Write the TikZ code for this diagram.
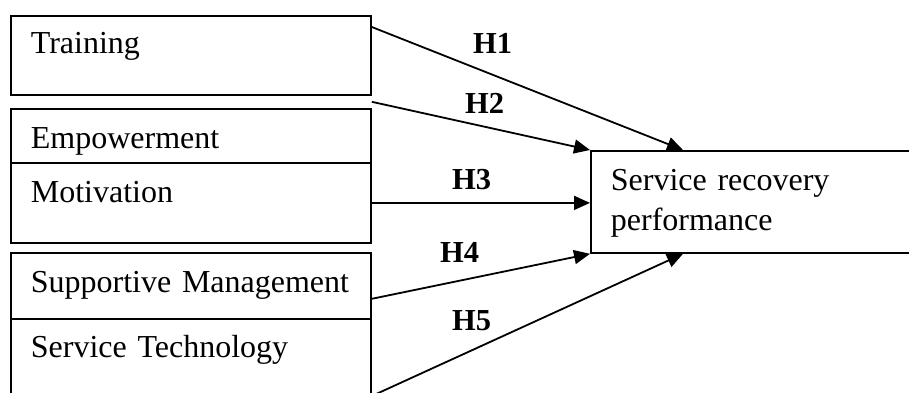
\documentclass[tikz,border=0pt]{standalone}
\usepackage{fontspec}
\setmainfont{Liberation Serif}
\usetikzlibrary{arrows.meta}
\tikzset{
  box/.style={draw, line width=1.8pt, anchor=north west, inner xsep=20pt, inner ysep=0pt,
    text width=320pt, align=left, font=\fontsize{32}{40}\selectfont},
  hyp/.style={anchor=base west, inner sep=0pt, font=\fontsize{30.5}{36}\selectfont\bfseries},
  link/.style={line width=1.8pt, -{Triangle[length=16pt, width=14pt]}}
}
\begin{document}
\begin{tikzpicture}[x=1pt, y=-1pt]
  \useasboundingbox (0,0) rectangle (909,392);
  % left boxes
  \foreach \nm/\yt/\th/\td/\txt in {train/15/38/41/Training, empow/108/40/14/Empowerment,
      motiv/162/40/40/Motivation, supp/252/40/26/Supportive Management,
      tech/318/39/82/Service Technology} {
    \node[box, text height=\th pt, text depth=\td pt] (\nm) at (10,\yt) {\txt};
  }
  % outcome
  \node[box, text width=285pt, text height=40pt, text depth=62pt] (srp) at (590,150)
    {Service recovery\\performance};
  % hypotheses
  \foreach \i/\x/\y in {1/473/53, 2/465/113, 3/452/189, 4/440/262, 5/452/330} {
    \node[hyp] (h\i) at (\x,\y) {H\i};
  }
  \draw[link] ([yshift=-12pt]train.north east) -- ([xshift=93pt]srp.north west);
  \draw[link] ([yshift=-6pt]train.south east) -- (srp.north west);
  \draw[link] (motiv.east) -- (motiv.east -| srp.west);
  \draw[link] ([yshift=21pt]supp.south east) -- (srp.south west);
  \draw[link] ([yshift=-78pt]tech.north east) -- ([xshift=93pt]srp.south west);
\end{tikzpicture}
\end{document}
